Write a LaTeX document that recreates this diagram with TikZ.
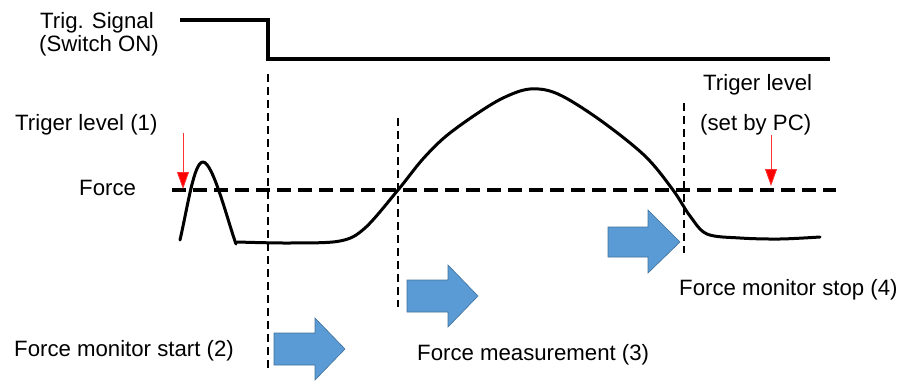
\documentclass[tikz,border=0pt]{standalone}
\usepackage{fontspec}
\setmainfont{Liberation Sans}
\usetikzlibrary{arrows.meta}
\definecolor{arrowblue}{HTML}{5B9BD5}
\definecolor{arrowedge}{HTML}{41719C}
\begin{document}
\begin{tikzpicture}[x=1pt,y=-1pt,
  lbl/.style={anchor=base west,inner sep=0pt,font=\fontsize{22.2}{25}\selectfont},
  trigline/.style={line width=4pt},
  levelline/.style={line width=4.5pt,dash pattern=on 14pt off 7pt},
  markline/.style={line width=2pt,dash pattern=on 8pt off 5pt},
  forcecurve/.style={line width=3pt,line cap=round,line join=round},
  redarrow/.style={draw=red!80,line width=0.8pt,-{Triangle[width=12pt,length=17pt,fill=red]}},
  bluearrow/.style={fill=arrowblue,draw=arrowedge,line width=0.6pt,line join=miter}]
\useasboundingbox (0,0) rectangle (901,380);

% texts
\node[lbl] (trig) at (40,28) {Trig. Signal};
\node[lbl] (sw) at (39,51) {(Switch ON)};
\node[lbl] (tl1) at (15,130) {Triger level (1)};
\node[lbl] (force) at (79,195) {Force};
\node[lbl] (tl2) at (703,90) {Triger level};
\node[lbl] (pc) at (700,130) {(set by PC)};
\node[lbl] (stop) at (679,295) {Force monitor stop (4)};
\node[lbl] (start) at (14,356) {Force monitor start (2)};
\node[lbl] (meas) at (417,360) {Force measurement (3)};

% trigger signal
\draw[trigline] (180,20) -- (268,20) -- (268,59) -- (830,59);

% vertical markers
\draw[markline] (268,74) -- (268,370);
\draw[markline] (398,118) -- (398,307);
\draw[markline] (684,103) -- (684,253);

% force level
\draw[levelline] (172,190) -- (836,190);

% force curve
\draw[forcecurve] (180,240) .. controls (188,205) and (194,162) .. (203,162)
  .. controls (213,162) and (228,222) .. (236,244);
\draw[forcecurve] plot[smooth,tension=0.55] coordinates {
  (237,242) (290,243) (340,241) (365,228) (398,190) (422,160) (445,137)
  (475,115) (503,98) (530,89) (558,94) (600,120) (645,156) (673,190)
  (690,216) (707,234) (740,238) (780,239) (820,237)};

% red arrows
\draw[redarrow] (183,133) -- (183,189);
\draw[redarrow] (771,135) -- (771,186);

% blue arrows
\draw[bluearrow] (274,333) -- (315,333) -- (315,318) -- (345,349) -- (315,380) -- (315,365) -- (274,365) -- cycle;
\draw[bluearrow] (407,280) -- (448,280) -- (448,265) -- (478,296) -- (448,327) -- (448,312) -- (407,312) -- cycle;
\draw[bluearrow] (608,227) -- (648,227) -- (648,210) -- (680,242) -- (648,273) -- (648,257) -- (608,257) -- cycle;
\end{tikzpicture}
\end{document}
